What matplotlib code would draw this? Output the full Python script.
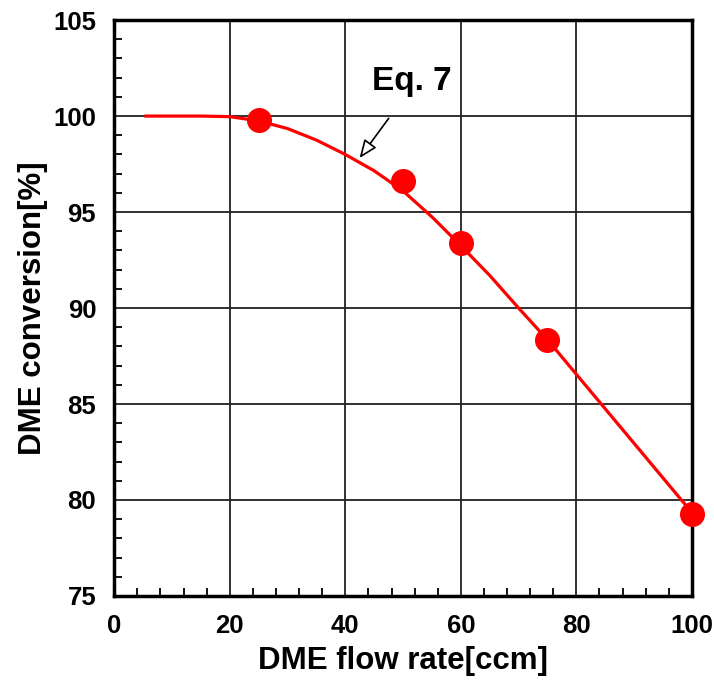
import numpy as np
import matplotlib
matplotlib.use("Agg")
import matplotlib.pyplot as plt
from matplotlib.ticker import MultipleLocator

# measured points
flow = [25, 50, 60, 75, 100]
conv = [99.8, 96.6, 93.4, 88.35, 79.25]

# Eq. 7 curve
eq_x = [5.5, 10, 15, 20, 25, 30, 35, 40, 45, 50, 55, 60, 65, 70, 75, 80, 85, 90, 95, 99.3]
eq_y = [100, 100, 100, 99.97, 99.75, 99.35, 98.75, 98.0, 97.15, 96.1, 94.75, 93.25, 91.7, 90.0, 88.35, 86.55, 84.75, 82.95, 81.15, 79.6]

plt.rcParams['font.family'] = ['Liberation Sans', 'DejaVu Sans']
plt.rcParams['font.weight'] = 'bold'

fig = plt.figure(figsize=(7.14, 6.93), dpi=100)
ax = fig.add_axes([0.160, 0.140, 0.809, 0.831])

ax.plot(eq_x, eq_y, color='red', lw=2.3, zorder=3)
ax.plot(flow, conv, 'o', color='red', ms=17, zorder=4, clip_on=False)

ax.set_xlim(0, 100)
ax.set_ylim(75, 105)
ax.xaxis.set_major_locator(MultipleLocator(20))
ax.xaxis.set_minor_locator(MultipleLocator(4))
ax.yaxis.set_major_locator(MultipleLocator(5))
ax.yaxis.set_minor_locator(MultipleLocator(1))
ax.tick_params(which='both', direction='in', labelsize=18.5)
ax.tick_params(axis='x', pad=13)
ax.tick_params(axis='y', pad=13)
ax.tick_params(which='major', length=0)
ax.tick_params(which='minor', length=6, width=1.3)
for lab in ax.get_xticklabels() + ax.get_yticklabels():
    lab.set_fontweight('bold')

ax.grid(True, which='major', color='#222222', lw=1.3)
for s in ax.spines.values():
    s.set_linewidth(2.5)

ax.set_xlabel('DME flow rate[ccm]', fontsize=22.5, fontweight='bold', labelpad=6)
ax.set_ylabel('DME conversion[%]', fontsize=22.5, fontweight='bold', labelpad=4)

ax.annotate('', xy=(42.2, 97.7), xytext=(47.8, 100.0),
            arrowprops=dict(arrowstyle='-|>,head_length=1.1,head_width=0.45', fc='white', ec='black', lw=1.2),
            zorder=5)
ax.text(51.6, 101.8, 'Eq. 7', fontsize=24, fontweight='bold', ha='center', va='center', zorder=5)

fig.savefig('out.png', dpi=100)
